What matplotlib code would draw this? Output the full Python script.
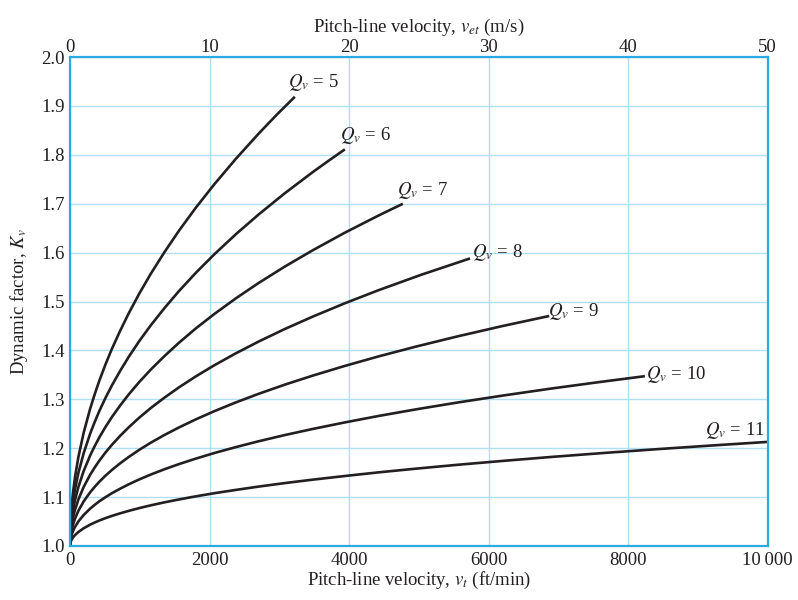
import matplotlib
matplotlib.use("Agg")
import matplotlib.pyplot as plt

plt.rcParams['font.family'] = ['Liberation Serif', 'DejaVu Serif']
plt.rcParams['mathtext.fontset'] = 'stix'

# Curves: pitch-line velocity v_t (ft/min) vs dynamic factor Kv
v_q5 = [0, 0.5, 2.2, 6.2, 12, 25, 42, 72, 121, 196, 289, 352, 420, 506, 600, 716, 841, 992, 1156,
        1351, 1560, 1806, 2070, 2377, 2704, 2959, 3223]
k_q5 = [1.0, 1.0117, 1.0250, 1.0417, 1.0583, 1.0832, 1.1080, 1.1411, 1.1823, 1.2316, 1.2808, 1.3093,
        1.3379, 1.3703, 1.4029, 1.4392, 1.4756, 1.5159, 1.5562, 1.6003, 1.6443, 1.6923, 1.7400, 1.7917,
        1.8433, 1.8813, 1.9187]

v_q6 = [0, 0.5, 2.2, 6.2, 12, 25, 42, 72, 121, 196, 289, 352, 420, 506, 600, 716, 841, 992, 1156,
        1351, 1560, 1806, 2070, 2377, 2704, 3080, 3481, 3721, 3940]
k_q6 = [1.0, 1.0097, 1.0207, 1.0344, 1.0481, 1.0686, 1.0889, 1.1160, 1.1497, 1.1898, 1.2297, 1.2528,
        1.2759, 1.3021, 1.3282, 1.3574, 1.3866, 1.4189, 1.4509, 1.4860, 1.5210, 1.5590, 1.5967, 1.6375,
        1.6780, 1.7215, 1.7648, 1.7893, 1.8112]

v_q7 = [0, 0.5, 2.2, 6.2, 12, 25, 42, 72, 121, 196, 289, 352, 420, 506, 600, 716, 841, 992, 1156,
        1351, 1560, 1806, 2070, 2377, 2704, 3080, 3481, 3938, 4422, 4770]
k_q7 = [1.0, 1.0079, 1.0168, 1.0279, 1.0390, 1.0556, 1.0721, 1.0939, 1.1210, 1.1532, 1.1851, 1.2036,
        1.2220, 1.2428, 1.2636, 1.2867, 1.3098, 1.3352, 1.3605, 1.3880, 1.4154, 1.4452, 1.4746, 1.5064,
        1.5379, 1.5715, 1.6049, 1.6406, 1.6758, 1.6998]

v_q8 = [0, 0.5, 2.2, 6.2, 12, 25, 42, 72, 121, 196, 289, 352, 420, 506, 600, 716, 841, 992, 1156,
        1351, 1560, 1806, 2070, 2377, 2704, 3080, 3481, 3938, 4422, 5041, 5734]
k_q8 = [1.0, 1.0062, 1.0133, 1.0221, 1.0309, 1.0440, 1.0570, 1.0741, 1.0954, 1.1207, 1.1456, 1.1601,
        1.1744, 1.1907, 1.2068, 1.2248, 1.2426, 1.2623, 1.2819, 1.3031, 1.3242, 1.3471, 1.3697, 1.3940,
        1.4181, 1.4438, 1.4692, 1.4963, 1.5231, 1.5550, 1.5881]

v_q9 = [0, 0.5, 2.2, 6.2, 12, 25, 42, 72, 121, 196, 289, 352, 420, 506, 600, 716, 841, 992, 1156,
        1351, 1560, 1806, 2070, 2377, 2704, 3080, 3481, 3938, 4422, 4970, 5550, 6202, 6869]
k_q9 = [1.0, 1.0047, 1.0101, 1.0168, 1.0234, 1.0333, 1.0431, 1.0560, 1.0721, 1.0911, 1.1098, 1.1206,
        1.1313, 1.1434, 1.1554, 1.1688, 1.1820, 1.1966, 1.2111, 1.2268, 1.2423, 1.2591, 1.2758, 1.2936,
        1.3112, 1.3300, 1.3485, 1.3682, 1.3877, 1.4082, 1.4285, 1.4499, 1.4704]

v_q10 = [0, 0.5, 2.2, 6.2, 12, 25, 42, 72, 121, 196, 289, 352, 420, 506, 600, 716, 841, 992, 1156,
         1351, 1560, 1806, 2070, 2377, 2704, 3080, 3481, 3938, 4422, 4970, 5550, 6202, 6889, 7569, 8240]
k_q10 = [1.0, 1.0033, 1.0071, 1.0117, 1.0164, 1.0233, 1.0301, 1.0391, 1.0503, 1.0634, 1.0764, 1.0839,
         1.0913, 1.0996, 1.1079, 1.1170, 1.1261, 1.1361, 1.1460, 1.1568, 1.1674, 1.1788, 1.1902, 1.2022,
         1.2142, 1.2269, 1.2394, 1.2527, 1.2659, 1.2797, 1.2933, 1.3076, 1.3218, 1.3349, 1.3473]

v_q11 = [0, 0.5, 2.2, 6.2, 12, 25, 42, 72, 121, 196, 289, 352, 420, 506, 600, 716, 841, 992, 1156,
         1351, 1560, 1806, 2070, 2377, 2704, 3080, 3481, 3938, 4422, 4970, 5550, 6202, 6889, 7656, 8464,
         9216, 10000]
k_q11 = [1.0, 1.0019, 1.0041, 1.0067, 1.0094, 1.0133, 1.0172, 1.0223, 1.0287, 1.0362, 1.0436, 1.0479,
         1.0521, 1.0568, 1.0615, 1.0667, 1.0718, 1.0775, 1.0831, 1.0892, 1.0951, 1.1016, 1.1080, 1.1147,
         1.1215, 1.1287, 1.1357, 1.1431, 1.1506, 1.1583, 1.1660, 1.1740, 1.1820, 1.1903, 1.1985, 1.2057,
         1.2129]

quality = [5, 6, 7, 8, 9, 10, 11]
curves = [(v_q5, k_q5), (v_q6, k_q6), (v_q7, k_q7), (v_q8, k_q8),
          (v_q9, k_q9), (v_q10, k_q10), (v_q11, k_q11)]

label_x = [3123, 3868, 4685, 5759, 6848, 8252, 9097]
label_y = [1.947, 1.84, 1.728, 1.601, 1.479, 1.35, 1.237]

x_ticks = [0, 2000, 4000, 6000, 8000, 10000]
x_tick_labels = ['0', '2000', '4000', '6000', '8000', '10\u2009000']
y_ticks = [1.0, 1.1, 1.2, 1.3, 1.4, 1.5, 1.6, 1.7, 1.8, 1.9, 2.0]
top_ticks = [0, 10, 20, 30, 40, 50]

spine_c = '#29abe2'
grid_c = '#b0def4'
line_c = '#231f20'
fs = 13.5

fig = plt.figure(figsize=(7.98, 6.0), dpi=100)
ax = fig.add_axes([0.0877, 0.09, 0.8743, 0.815])

for q, (v, k), lx, ly in zip(quality, curves, label_x, label_y):
    ax.plot(v, k, color=line_c, lw=1.9, solid_capstyle='butt', solid_joinstyle='round')
    ax.text(lx, ly, r'$Q_v$ = %d' % q, fontsize=fs, ha='left', va='center', color=line_c)

ax.set_xlim(0, 10000)
ax.set_ylim(1.0, 2.0)
ax.set_xticks(x_ticks)
ax.set_xticklabels(x_tick_labels)
ax.set_yticks(y_ticks)
ax.set_yticklabels(['%.1f' % t for t in y_ticks])
ax.grid(True, color=grid_c, lw=1.0)
ax.set_axisbelow(True)
ax.tick_params(length=0, labelsize=fs, pad=4, colors=line_c)
for s in ax.spines.values():
    s.set_color(spine_c)
    s.set_linewidth(1.6)
ax.set_xlabel(r'Pitch-line velocity, $v_t$ (ft/min)', fontsize=fs, labelpad=1, color=line_c)
ax.set_ylabel(r'Dynamic factor, $K_v$', fontsize=fs, labelpad=8, color=line_c)

ax2 = ax.twiny()
ax2.set_xlim(0, 50)
ax2.set_xticks(top_ticks)
ax2.tick_params(length=0, labelsize=fs, pad=1, colors=line_c)
for s in ax2.spines.values():
    s.set_visible(False)
ax2.set_xlabel(r'Pitch-line velocity, $v_{et}$ (m/s)', fontsize=fs, labelpad=5, color=line_c)

fig.savefig('out.png', dpi=100)
